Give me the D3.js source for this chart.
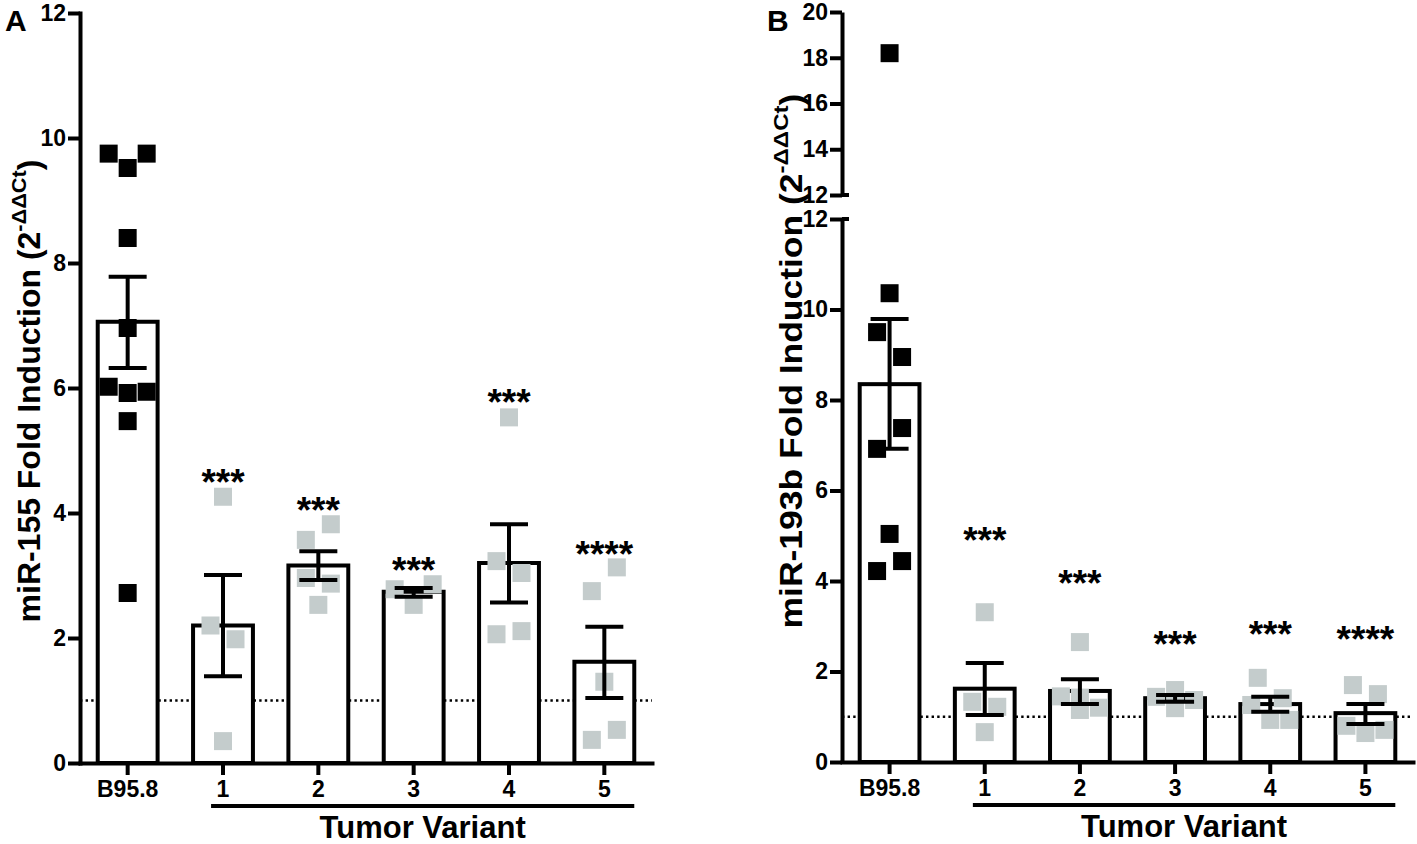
<!DOCTYPE html>
<html><head><meta charset="utf-8">
<script src="https://cdn.jsdelivr.net/npm/d3@7"></script>
<style>
body{margin:0;background:#fff}
text{font-family:"Liberation Sans",Arial,Helvetica,sans-serif;font-weight:bold;fill:#000}
</style>
</head><body>
<svg id="c" width="1417" height="844"></svg>
<script>
// ---------- data ----------
const categories = ["B95.8", "1", "2", "3", "4", "5"];
const groupLabel = "Tumor Variant";
const ticksA = [0, 2, 4, 6, 8, 10, 12];
const ticksBLow = [0, 2, 4, 6, 8, 10, 12];
const ticksBHigh = [12, 14, 16, 18, 20];
const baselineValue = 1;

const meanA = [7.06, 2.20, 3.16, 2.74, 3.20, 1.62];
const errHiA = [7.78, 3.01, 3.39, 2.80, 3.82, 2.18];
const errLoA = [6.32, 1.39, 2.93, 2.66, 2.57, 1.04];
const pointsA = [
  [9.75, 9.52, 9.75, 8.40, 6.96, 6.02, 5.92, 5.94, 5.47, 2.72],
  [4.26, 2.20, 1.98, 0.35],
  [3.57, 3.82, 2.96, 2.87, 2.53],
  [2.78, 2.53, 2.86],
  [5.53, 3.23, 3.04, 2.06, 2.11],
  [2.75, 3.13, 1.30, 0.37, 0.53]
];
const starsA = ["", "***", "***", "***", "***", "****"];
const starLevelA = [null, 4.58, 4.14, 3.18, 5.87, 3.44];

const meanB = [8.35, 1.62, 1.57, 1.41, 1.28, 1.08];
const errHiB = [9.79, 2.19, 1.83, 1.48, 1.44, 1.28];
const errLoB = [6.92, 1.04, 1.28, 1.33, 1.11, 0.84];
const pointsB = [
  [18.2, 10.36, 9.50, 8.95, 6.92, 7.38, 5.04, 4.22, 4.44],
  [3.31, 1.33, 1.22, 0.66],
  [2.65, 1.45, 1.42, 1.20, 1.15],
  [1.44, 1.59, 1.37, 1.19],
  [1.86, 1.26, 1.41, 0.93, 0.93],
  [1.70, 1.50, 0.80, 0.64, 0.71]
];
const starsB = ["", "***", "***", "***", "***", "****"];
const starLevelB = [null, 5.02, 4.07, 2.72, 2.96, 2.85];

// ---------- drawing ----------
const svg = d3.select("#c");
const BLACK = "#000", GRAY = "#c4cccc";
const SQ = 18, LW = 4, TICKFS = 23;

function layoutPoints(vals, yf, cx) {
  const idx = vals.map((v, i) => i).sort((a, b) => vals[b] - vals[a]);
  const rows = []; let cur = null;
  idx.forEach(i => {
    if (cur && cur.length < 3 && Math.abs(yf(vals[cur[0]]) - yf(vals[i])) < 25.5) cur.push(i);
    else { cur = [i]; rows.push(cur); }
  });
  const out = [];
  rows.forEach(r => {
    r.sort((a, b) => a - b);
    const sp = r.length === 2 ? 25 : 19;
    r.forEach((i, k) => out.push({ x: cx + (k - (r.length - 1) / 2) * sp, y: yf(vals[i]) }));
  });
  return out;
}

function styleAxis(g, fs) {
  g.attr("font-size", fs).attr("font-family", '"Liberation Sans",Arial,sans-serif');
  g.selectAll("path,line").attr("stroke", BLACK).attr("stroke-width", LW);
  g.selectAll("path").attr("stroke-linecap", "square");
  g.selectAll("text").attr("font-size", fs).attr("fill", BLACK).style("font-weight", "bold");
}

function panel(cfg) {
  const g = svg.append("g");
  const x = d3.scaleBand().domain(categories).range(cfg.xr).paddingInner(0.33).paddingOuter(0.165);
  const bw = x.bandwidth();
  const yf = cfg.yf;
  const y0 = yf(0);

  // dotted baseline
  g.append("line").attr("x1", cfg.xr[0]).attr("x2", cfg.xr[1])
    .attr("y1", yf(baselineValue)).attr("y2", yf(baselineValue))
    .attr("stroke", BLACK).attr("stroke-width", 2.4).attr("stroke-dasharray", "2.4,3.2");

  // bars
  g.selectAll("rect.bar").data(categories).join("rect").attr("class", "bar")
    .attr("x", d => x(d) + LW / 2).attr("width", bw - LW)
    .attr("y", (d, i) => yf(cfg.mean[i])).attr("height", (d, i) => y0 - yf(cfg.mean[i]))
    .attr("fill", "#fff").attr("stroke", BLACK).attr("stroke-width", LW);

  // points
  categories.forEach((c, i) => {
    const pts = layoutPoints(cfg.points[i], yf, x(c) + bw / 2);
    g.append("g").selectAll("rect").data(pts).join("rect")
      .attr("x", d => d.x - SQ / 2).attr("y", d => d.y - SQ / 2)
      .attr("width", SQ).attr("height", SQ)
      .attr("fill", i === 0 ? BLACK : GRAY);
  });

  // error bars
  categories.forEach((c, i) => {
    const cx = x(c) + bw / 2, cap = 19;
    const eg = g.append("g").attr("stroke", BLACK).attr("stroke-width", LW);
    eg.append("line").attr("x1", cx).attr("x2", cx).attr("y1", yf(cfg.hi[i])).attr("y2", yf(cfg.lo[i]));
    eg.append("line").attr("x1", cx - cap).attr("x2", cx + cap).attr("y1", yf(cfg.hi[i])).attr("y2", yf(cfg.hi[i]));
    eg.append("line").attr("x1", cx - cap).attr("x2", cx + cap).attr("y1", yf(cfg.lo[i])).attr("y2", yf(cfg.lo[i]));
  });

  // stars
  const sfs = 37;
  g.selectAll("text.star").data(categories.filter((c, i) => cfg.stars[i])).join("text")
    .attr("class", "star")
    .attr("x", d => x(d) + bw / 2)
    .attr("y", d => yf(cfg.starLevel[categories.indexOf(d)]) + 0.5 * sfs)
    .attr("text-anchor", "middle").attr("font-size", sfs)
    .text(d => cfg.stars[categories.indexOf(d)]);

  // x axis
  const xa = g.append("g").attr("transform", `translate(0,${y0})`)
    .call(d3.axisBottom(x).tickSize(12).tickSizeOuter(0).tickPadding(6));
  styleAxis(xa, TICKFS);

  // group underline and label
  const ux1 = x(categories[1]) + 20, ux2 = x(categories[5]) + bw - 2;
  g.append("line").attr("x1", ux1).attr("x2", ux2).attr("y1", y0 + 43).attr("y2", y0 + 43)
    .attr("stroke", BLACK).attr("stroke-width", LW);
  g.append("text").attr("x", (ux1 + ux2) / 2).attr("y", y0 + 75)
    .attr("text-anchor", "middle").attr("font-size", 31).text(groupLabel);

  return { g, x };
}

// ----- Panel A -----
const yA = d3.scaleLinear().domain([0, 12]).range([763, 13]);
const pA = panel({ xr: [80, 652], yf: yA, mean: meanA, hi: errHiA, lo: errLoA,
  points: pointsA, stars: starsA, starLevel: starLevelA });
const yaA = pA.g.append("g").attr("transform", "translate(80,0)")
  .call(d3.axisLeft(yA).tickValues(ticksA).tickSize(12).tickSizeOuter(0).tickPadding(2));
styleAxis(yaA, TICKFS);

// ----- Panel B (broken axis) -----
const yBLow = d3.scaleLinear().domain([0, 12]).range([762, 219]);
const yBHigh = d3.scaleLinear().domain([12, 20]).range([195, 12]);
const yB = v => v > 12 ? yBHigh(v) : yBLow(v);
const pB = panel({ xr: [842, 1413], yf: yB, mean: meanB, hi: errHiB, lo: errLoB,
  points: pointsB, stars: starsB, starLevel: starLevelB });
const yaB1 = pB.g.append("g").attr("transform", "translate(842,0)")
  .call(d3.axisLeft(yBLow).tickValues(ticksBLow).tickSize(12).tickSizeOuter(0).tickPadding(2));
styleAxis(yaB1, TICKFS);
const yaB2 = pB.g.append("g").attr("transform", "translate(842,0)")
  .call(d3.axisLeft(yBHigh).tickValues(ticksBHigh).tickSize(12).tickSizeOuter(0).tickPadding(2));
styleAxis(yaB2, TICKFS);
yaB1.select("path.domain").attr("stroke-linecap", "butt");
yaB2.select("path.domain").attr("stroke-linecap", "butt");
// break marks extend to the right of the axis
[yBLow(12), yBHigh(12)].forEach(yy => {
  pB.g.append("line").attr("x1", 842).attr("x2", 849).attr("y1", yy).attr("y2", yy)
    .attr("stroke", BLACK).attr("stroke-width", LW);
});

// ----- y labels (stretched along their length to the reference extent) -----
function yLabel(xp, yc, main, fs, targetLen) {
  const wrap = svg.append("g").attr("transform", `translate(${xp},${yc}) rotate(-90)`);
  const t = wrap.append("text").attr("text-anchor", "middle").attr("font-size", fs);
  t.append("tspan").text(main + " (2");
  t.append("tspan").attr("font-size", fs * 0.68).attr("dy", -fs * 0.45).text("-ΔΔCt");
  t.append("tspan").attr("dy", fs * 0.45).text(")");
  const len = t.node().getComputedTextLength();
  t.attr("transform", `scale(${targetLen / len},1)`);
}
yLabel(40, 391, "miR-155 Fold Induction", 31, 463);
yLabel(802, 361, "miR-193b Fold Induction", 31, 535);

// ----- panel letters -----
svg.append("text").attr("x", 5).attr("y", 31).attr("font-size", 30).text("A");
svg.append("text").attr("x", 767).attr("y", 31).attr("font-size", 30).text("B");
</script>
</body></html>
